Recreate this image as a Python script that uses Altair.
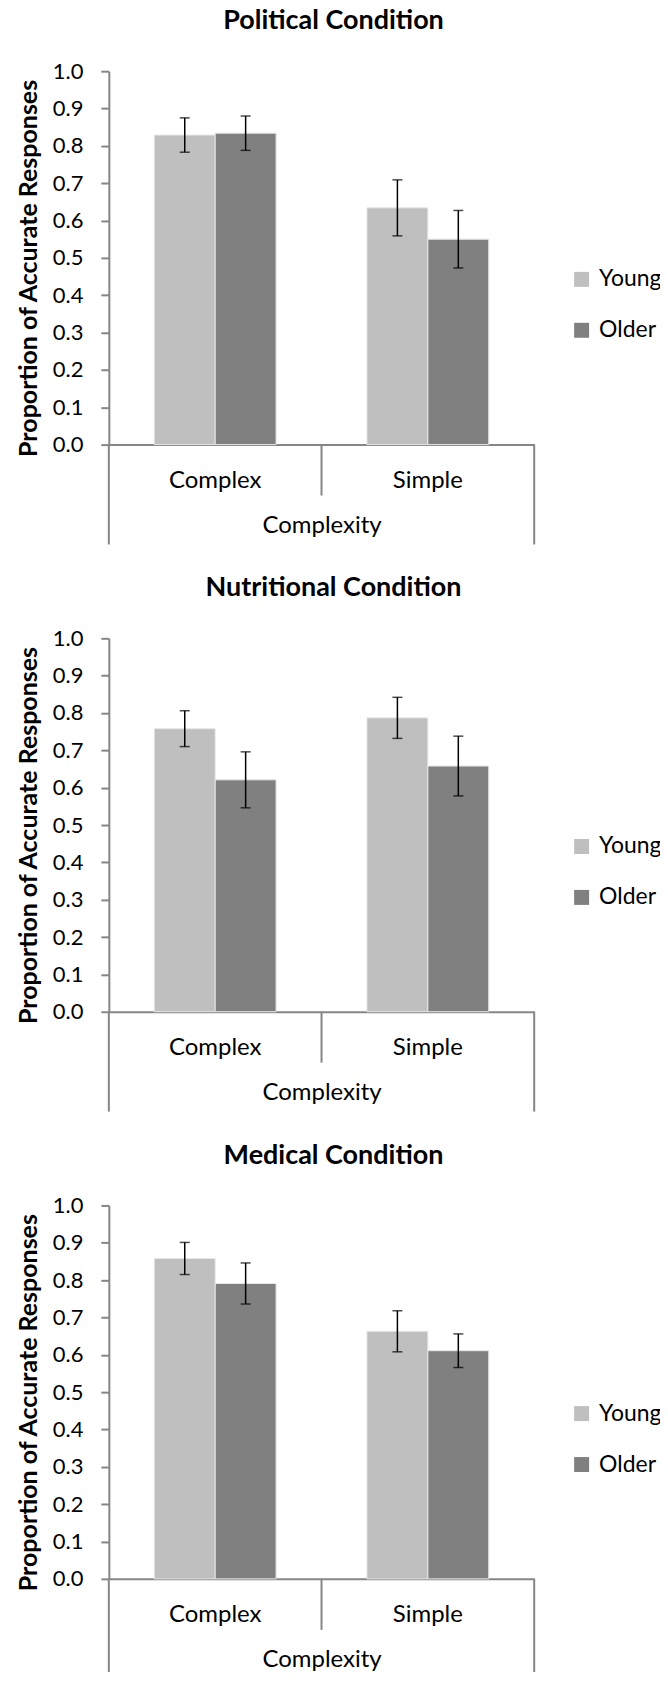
import altair as alt
import pandas as pd

# ---- data ----
conditions = ["Political Condition", "Nutritional Condition", "Medical Condition"]
complexity = ["Complex", "Simple"]
groups = ["Young", "Older"]

political_young = [0.829, 0.634]
political_older = [0.834, 0.550]
political_young_err = [0.046, 0.075]
political_older_err = [0.046, 0.077]

nutritional_young = [0.758, 0.787]
nutritional_older = [0.621, 0.658]
nutritional_young_err = [0.048, 0.055]
nutritional_older_err = [0.075, 0.080]

medical_young = [0.858, 0.663]
medical_older = [0.791, 0.611]
medical_young_err = [0.043, 0.055]
medical_older_err = [0.055, 0.045]

y_ticks = [0.0, 0.1, 0.2, 0.3, 0.4, 0.5, 0.6, 0.7, 0.8, 0.9, 1.0]
colors = ["#BFBFBF", "#808080"]

FONT = "Lato"
AXIS_GRAY = "#868686"
W, H = 426, 374
BELOW = 100   # outer category-axis lines extend below the plot
MID = 51      # middle divider length


def make_df(young, older, young_err, older_err):
    rows = []
    for i, c in enumerate(complexity):
        rows.append({"Complexity": c, "Age": "Young", "Proportion": young[i],
                     "lo": young[i] - young_err[i], "hi": young[i] + young_err[i]})
        rows.append({"Complexity": c, "Age": "Older", "Proportion": older[i],
                     "lo": older[i] - older_err[i], "hi": older[i] + older_err[i]})
    return pd.DataFrame(rows)


def y_axis():
    return alt.Axis(
        title="Proportion of Accurate Responses", values=y_ticks, format=".1f",
        tickCount=11, labelOverlap=False, labelBound=False,
        grid=False, tickSize=8, tickColor=AXIS_GRAY, tickWidth=2,
        domainColor=AXIS_GRAY, domainWidth=2,
        labelFont=FONT, labelFontSize=22, labelColor="black", labelPadding=18,
        titleFont=FONT, titleFontSize=25, titleFontWeight="bold",
        titleColor="black", titlePadding=11, titleY=197,
    )


def panel(title, df):
    x_enc = alt.X(
        "Complexity:N", sort=complexity,
        scale=alt.Scale(paddingInner=0.4272, paddingOuter=0.2136),
        axis=alt.Axis(
            title="Complexity", labelAngle=0, ticks=False, tickSize=0,
            domainColor=AXIS_GRAY, domainWidth=2,
            labelFont=FONT, labelFontSize=24, labelColor="black", labelPadding=24,
            titleFont=FONT, titleFontSize=24, titleFontWeight="normal",
            titleColor="black", titlePadding=21,
        ),
    )
    xoff = alt.XOffset("Age:N", sort=groups, scale=alt.Scale(paddingInner=0, paddingOuter=0))
    y_scale = alt.Scale(domain=[0, 1], nice=False, zero=True)

    base = alt.Chart(df).encode(x=x_enc, xOffset=xoff)

    bars = base.mark_bar(stroke="#E8E8E8", strokeWidth=1).encode(
        y=alt.Y("Proportion:Q", scale=y_scale, axis=y_axis()),
        color=alt.Color(
            "Age:N", sort=groups,
            scale=alt.Scale(domain=groups, range=colors),
            legend=alt.Legend(
                title=None, orient="none", legendX=462, legendY=197,
                symbolType="square", symbolSize=225, symbolStrokeWidth=0,
                labelFont=FONT, labelFontSize=23, labelColor="black",
                labelOffset=6, rowPadding=27, padding=0,
            ),
        ),
    )

    err = base.mark_rule(color="black", strokeWidth=1.5).encode(
        y=alt.Y("lo:Q", scale=y_scale, axis=y_axis()), y2="hi:Q"
    )
    cap_lo = base.mark_tick(color="black", thickness=1.5, size=10).encode(
        y=alt.Y("lo:Q", scale=y_scale, axis=y_axis())
    )
    cap_hi = base.mark_tick(color="black", thickness=1.5, size=10).encode(
        y=alt.Y("hi:Q", scale=y_scale, axis=y_axis())
    )

    one = pd.DataFrame({"k": [0]})
    left_line = alt.Chart(one).mark_rule(color=AXIS_GRAY, strokeWidth=2).encode(
        x=alt.value(0), y=alt.value(H), y2=alt.value(H + BELOW))
    right_line = alt.Chart(one).mark_rule(color=AXIS_GRAY, strokeWidth=2).encode(
        x=alt.value(W), y=alt.value(H), y2=alt.value(H + BELOW))
    mid_line = alt.Chart(one).mark_rule(color=AXIS_GRAY, strokeWidth=2).encode(
        x=alt.value(W / 2), y=alt.value(H), y2=alt.value(H + MID))

    return alt.layer(bars, err, cap_lo, cap_hi, left_line, right_line, mid_line).properties(
        width=W, height=H,
        title=alt.TitleParams(title, font=FONT, fontSize=27, fontWeight="bold",
                              color="black", anchor="middle", frame="group",
                              offset=25, dx=12),
    )


panels = [
    panel(conditions[0], make_df(political_young, political_older, political_young_err, political_older_err)),
    panel(conditions[1], make_df(nutritional_young, nutritional_older, nutritional_young_err, nutritional_older_err)),
    panel(conditions[2], make_df(medical_young, medical_older, medical_young_err, medical_older_err)),
]

chart = alt.vconcat(*panels, spacing=29).resolve_legend(color="independent").resolve_scale(
    x="independent", y="independent"
).configure_view(stroke=None).properties(padding={"left": 8, "top": -2, "right": -2, "bottom": -9})

chart.save("out.html", embed_options={"renderer": "svg", "actions": False})
